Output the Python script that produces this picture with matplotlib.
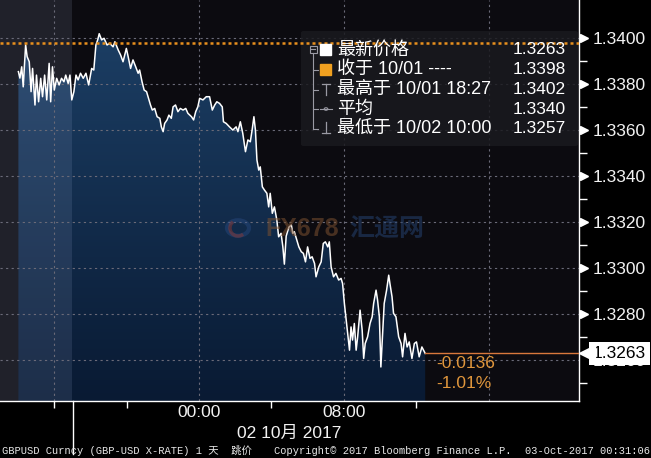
import numpy as np
import matplotlib
matplotlib.use('Agg')
import matplotlib.pyplot as plt
import matplotlib.transforms as mtransforms
from matplotlib.patches import FancyBboxPatch, Rectangle, Circle, Arc
from matplotlib.lines import Line2D
from matplotlib.colors import LinearSegmentedColormap

# GBPUSD ticks, minutes counted from 01 Oct 2017 13:00
minutes = [61, 66, 72, 77, 85, 90, 97, 103, 108, 116, 121, 128, 135, 141, 148, 155, 163, 168, 174, 180,
           188, 196, 204, 212, 218, 226, 232, 238, 245, 252, 259, 267, 276, 285, 294, 304, 311, 318, 324, 329,
           337, 345, 355, 364, 375,
           381, 392, 400, 408, 419, 425, 433, 441, 450, 458, 463, 471, 478, 486, 491, 499, 505, 513, 521, 530,
           535, 541, 546, 554, 560, 568, 574, 582, 590, 598, 607, 616, 623, 635, 642, 649, 656,
           662, 673, 684, 695, 704, 712, 719, 728, 737, 741, 750, 761, 772, 783, 789, 797, 805, 814, 822,
           830, 836, 842, 847, 852, 858, 863, 870, 877, 885, 891, 896, 903, 910, 918, 924,
           932, 938, 943, 949, 958, 966, 971, 976, 984, 991, 999, 1006, 1013, 1020, 1028, 1035, 1043, 1048,
           1057, 1065, 1072, 1079, 1087, 1092, 1098, 1106, 1114, 1123,
           1131, 1136, 1142, 1148, 1153, 1159, 1164, 1169, 1175, 1181, 1186, 1194, 1201, 1206, 1211, 1219,
           1227, 1234, 1239, 1247, 1252, 1258, 1263, 1269, 1274, 1282, 1289, 1293, 1300, 1305, 1313, 1322,
           1330, 1335, 1343, 1350, 1357, 1366, 1374, 1381, 1390, 1399, 1407,
           1410]
price = [1.33855, 1.33827, 1.33876, 1.33789, 1.33971, 1.33920, 1.33898, 1.33768, 1.33869, 1.33710,
         1.33840, 1.33724, 1.33826, 1.33746, 1.33840, 1.33732, 1.33891, 1.33724, 1.33876, 1.33775,
         1.33826, 1.33797, 1.33826, 1.33811, 1.33840, 1.33804, 1.33840, 1.33732, 1.33768, 1.33840,
         1.33819, 1.33848, 1.33826, 1.33848, 1.33797, 1.33869, 1.33862, 1.33971, 1.33993, 1.34020,
         1.33993, 1.34000, 1.33971, 1.33978, 1.33963,
         1.33985, 1.33949, 1.33927, 1.33898, 1.33956, 1.33920, 1.33869, 1.33906, 1.33876, 1.33848,
         1.33862, 1.33811, 1.33775, 1.33768, 1.33746, 1.33710, 1.33688, 1.33695, 1.33659, 1.33652,
         1.33615, 1.33594, 1.33630, 1.33645, 1.33666, 1.33652, 1.33702, 1.33710, 1.33681, 1.33695,
         1.33688, 1.33695, 1.33674, 1.33659, 1.33645, 1.33681, 1.33702,
         1.33739, 1.33732, 1.33746, 1.33746, 1.33688, 1.33710, 1.33724, 1.33717, 1.33702, 1.33637,
         1.33630, 1.33615, 1.33601, 1.33615, 1.33594, 1.33637, 1.33587, 1.33507, 1.33558, 1.33550,
         1.33601, 1.33659, 1.33601, 1.33471, 1.33427, 1.33441, 1.33354, 1.33340, 1.33326, 1.33267,
         1.33326, 1.33239, 1.33267, 1.33210, 1.33137,
         1.33152, 1.33093, 1.33018, 1.33140, 1.33179, 1.33188, 1.33152, 1.33159, 1.33123, 1.33093,
         1.33072, 1.33065, 1.33028, 1.33093, 1.33043, 1.33050, 1.33021, 1.32963, 1.33006, 1.33028,
         1.33108, 1.33115, 1.33093, 1.33115, 1.33006, 1.32963, 1.32978, 1.32949,
         1.32956, 1.32934, 1.32847, 1.32775, 1.32717, 1.32644, 1.32745, 1.32688, 1.32760, 1.32644,
         1.32702, 1.32818, 1.32731, 1.32608, 1.32673, 1.32702, 1.32760, 1.32789, 1.32847, 1.32905,
         1.32862, 1.32789, 1.32571, 1.32717, 1.32847, 1.32905, 1.32970, 1.32934, 1.32876, 1.32804,
         1.32789, 1.32702, 1.32673, 1.32615, 1.32717, 1.32658, 1.32680, 1.32608, 1.32673, 1.32680,
         1.32615, 1.32658, 1.32637,
         1.32630]

last_price = 1.3263
prev_close = 1.3398
change_txt = ['-0.0136', '-1.01%']
legend_names = ['最新价格', '收于 10/01 ----', '最高于 10/01 18:27', '平均', '最低于 10/02 10:00']
legend_vals = ['1.3263', '1.3398', '1.3402', '1.3340', '1.3257']
yticks = [1.3260, 1.3280, 1.3300, 1.3320, 1.3340, 1.3360, 1.3380, 1.3400]
xticks = [660, 1140]
xtick_labels = ['00:00', '08:00']
grid_x = [180, 660, 1140, 1620]
minor_x = [180, 420, 900, 1380]
pre_session = (0, 240)

W, H = 651, 458
def fx(x):
    return x / W
def fy(y):
    return 1 - y / H

SANS = ['Liberation Sans', 'Noto Sans CJK SC']
MONO = ['Liberation Mono', 'Noto Sans CJK SC']

fig = plt.figure(figsize=(6.51, 4.58), dpi=100, facecolor='black')
ax = fig.add_axes([0, fy(401), fx(579), 401 / H])
ax.set_facecolor('#0c0b10')
y0, y1 = 1.32423, 1.341665
ax.set_xlim(0, 1920)
ax.set_ylim(y0, y1)

# area under the price line with a vertical gradient
poly = ax.fill_between(minutes, price, y0, color='none', lw=0)
cmap = LinearSegmentedColormap.from_list('blu', ['#091a33', '#1d4168'])
grad = np.linspace(0, 1, 256).reshape(-1, 1)
im = ax.imshow(grad, cmap=cmap, origin='lower', aspect='auto',
               extent=[0, 1920, y0, y1], zorder=1)
im.set_clip_path(poly.get_paths()[0], transform=ax.transData)

# lighter pre-session band
ax.axvspan(*pre_session, color='#c8d4ff', alpha=0.11, lw=0, zorder=2)

for yv in yticks:
    ax.axhline(yv, color='#6a6a78', lw=0.8, ls=(0, (2, 3)), zorder=2.5)
for xv in grid_x:
    ax.axvline(xv, color='#6a6a78', lw=0.8, ls=(0, (2, 3)), zorder=2.5)

ax.plot(minutes, price, color='white', lw=1.1, zorder=4)
ax.axhline(prev_close, color='#e8901e', lw=1.8, ls=(0, (1.2, 1.2)), zorder=6)
ax.plot([minutes[-1], 1920], [last_price, last_price], color='#d9783c', lw=1, zorder=4)

# axes style
for s in ['left', 'top']:
    ax.spines[s].set_visible(False)
for s in ['right', 'bottom']:
    ax.spines[s].set_color('white')
    ax.spines[s].set_linewidth(1)
ax.yaxis.tick_right()
ax.set_yticks(yticks)
ax.set_yticklabels(['%.4f' % v for v in yticks])
ax.set_yticks([v + 0.001 for v in yticks[:-1]] + [1.3250], minor=True)
ax.tick_params(axis='y', which='major', length=0, pad=10, labelsize=12.5, labelcolor='#f2f2f2')
ax.tick_params(axis='y', which='minor', length=6, width=1, color='white', direction='out')
for lab in ax.get_yticklabels():
    lab.set_family(SANS)
ax.set_xticks(xticks)
ax.set_xticklabels(xtick_labels)
ax.set_xticks(minor_x, minor=True)
ax.tick_params(axis='x', which='major', length=0, pad=3, labelsize=12.5, labelcolor='#f2f2f2')
ax.tick_params(axis='x', which='minor', length=5, width=1, color='white', direction='out')
for lab in ax.get_xticklabels():
    lab.set_family(SANS)

# triangles on the price axis
trans = mtransforms.blended_transform_factory(ax.transAxes, ax.transData)
tri = trans + mtransforms.ScaledTranslation(0.05, 0, fig.dpi_scale_trans)
ax.plot([1] * (len(yticks) - 1), yticks[1:], ls='none', marker='>', ms=6,
        color='white', transform=tri, clip_on=False, zorder=7)

# last price tag (covers most of the 1.3260 label, as in the terminal)
tag = trans + mtransforms.ScaledTranslation(0.14, 0, fig.dpi_scale_trans)
ax.text(1, last_price, '%.4f' % last_price, transform=tag, ha='left', va='center',
        fontsize=12.5, family=SANS, color='black', zorder=8, clip_on=False,
        bbox=dict(boxstyle='square,pad=0.24', fc='white', ec='none'))
ax.plot([1], [last_price], ls='none', marker='<', ms=11, color='white',
        transform=trans + mtransforms.ScaledTranslation(0.075, 0, fig.dpi_scale_trans),
        clip_on=False, zorder=8)

# change texts
fig.text(fx(436), fy(364), change_txt[0], ha='left', va='center', fontsize=12.5,
         family=SANS, color='#e0963c')
fig.text(fx(436), fy(384), change_txt[1], ha='left', va='center', fontsize=12.5,
         family=SANS, color='#e0963c')

# legend panel
box = FancyBboxPatch((fx(301), fy(146)), fx(578) - fx(301), fy(31) - fy(146),
                     boxstyle='round,pad=0,rounding_size=0.004', transform=fig.transFigure,
                     fc='#1a1a1f', ec='none', alpha=0.85, zorder=5, clip_on=False)
ax.add_patch(box)
rows = [50, 69.5, 89.5, 109, 128.5]
gray = '#9a9aa4'
fig.add_artist(Line2D([fx(313), fx(313)], [fy(53), fy(129)], color=gray, lw=0.8))
fig.add_artist(Rectangle((fx(309.5), fy(52.5)), fx(7), 7 / H, fill=False, ec=gray, lw=0.8))
fig.add_artist(Line2D([fx(311), fx(315)], [fy(49), fy(49)], color=gray, lw=0.8))
for r in rows[1:]:
    fig.add_artist(Line2D([fx(313), fx(318)], [fy(r), fy(r)], color=gray, lw=0.8))
fig.add_artist(Rectangle((fx(320), fy(55)), fx(11), 11 / H, color='white'))
fig.add_artist(Rectangle((fx(320), fy(75)), fx(11), 11 / H, color='#f0a020'))
# high / avg / low glyphs
fig.add_artist(Line2D([fx(326), fx(326)], [fy(84), fy(95)], color=gray, lw=0.9))
fig.add_artist(Line2D([fx(322), fx(330)], [fy(84), fy(84)], color=gray, lw=0.9))
fig.add_artist(Line2D([fx(320), fx(332)], [fy(109), fy(109)], color=gray, lw=0.8))
fig.add_artist(Circle((fx(326), fy(109)), 1.8 / W, fc='#1a1a1f', ec=gray, lw=0.8,
                      transform=fig.transFigure))
fig.add_artist(Line2D([fx(326), fx(326)], [fy(122), fy(133)], color=gray, lw=0.9))
fig.add_artist(Line2D([fx(322), fx(330)], [fy(133), fy(133)], color=gray, lw=0.9))
for r, name, val in zip(rows, legend_names, legend_vals):
    fig.text(fx(337), fy(r), name, ha='left', va='center', fontsize=13, family=SANS, color='white')
    fig.text(fx(566), fy(r), val, ha='right', va='center', fontsize=12.5, family=SANS, color='white')

# watermark
fig.add_artist(Circle((fx(238), fy(228)), 11 / W, fill=False, ec='#2c4f8a', lw=3, alpha=0.4))
fig.add_artist(Arc((fx(238), fy(228)), 16 / W, 16 / H, theta1=120, theta2=300,
                   ec='#9a3a30', lw=2.5, alpha=0.45, transform=fig.transFigure))
fig.text(fx(265), fy(229), 'FX678', ha='left', va='center', fontsize=18, fontweight='bold',
         family=SANS, color='#7a5030', alpha=0.55)
fig.text(fx(349), fy(229), '汇通网', ha='left', va='center', fontsize=18, fontweight='bold',
         family=['Noto Sans CJK SC'], color='#24416e', alpha=0.55)

# session divider below the axis
fig.add_artist(Line2D([fx(72.5), fx(72.5)], [fy(401), fy(454)], color='white', lw=1))

# bottom texts
fig.text(fx(289), fy(433), '02 10月 2017', ha='center', va='center', fontsize=12.5,
         family=SANS, color='#f2f2f2')
fig.text(fx(2), fy(451), 'GBPUSD Curncy (GBP-USD X-RATE) 1 天  跳价', ha='left', va='center',
         fontsize=7.5, family=MONO, color='#e8e8e8')
fig.text(fx(274), fy(451), 'Copyright© 2017 Bloomberg Finance L.P.', ha='left', va='center',
         fontsize=7.5, family=MONO, color='#e8e8e8')
fig.text(fx(650), fy(451), '03-Oct-2017 00:31:06', ha='right', va='center',
         fontsize=7.5, family=MONO, color='#e8e8e8')

fig.savefig('out.png', dpi=100, facecolor='black')
